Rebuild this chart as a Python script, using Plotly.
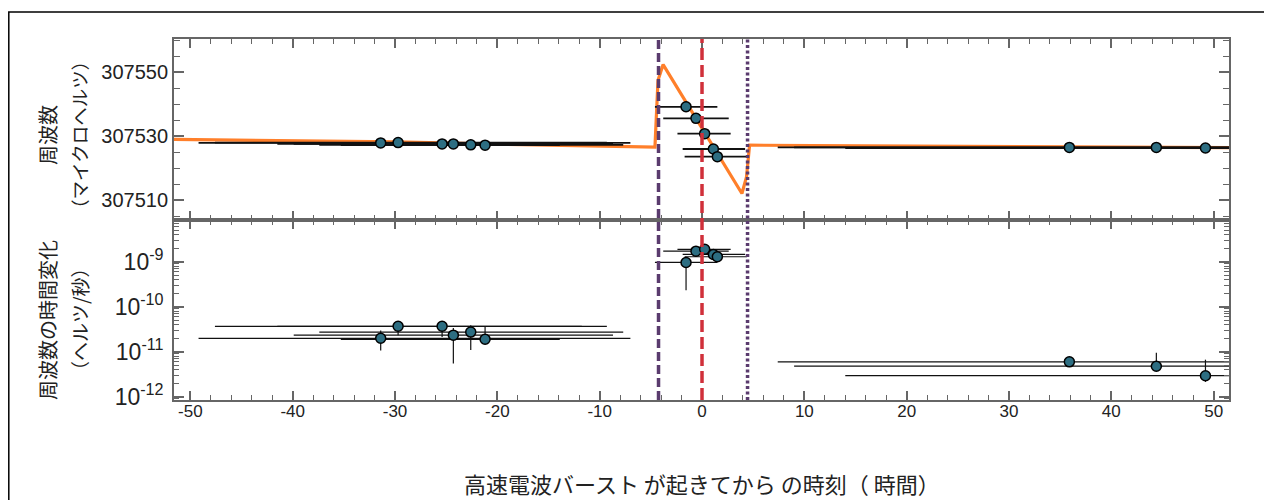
import plotly.graph_objects as go
from plotly.subplots import make_subplots

# ---------------- data ----------------
times = [-31.4, -29.7, -25.4, -24.3, -22.6, -21.2,
         -1.56, -0.59, 0.26, 1.11, 1.50,
         35.9, 44.4, 49.2]
t_err_minus = [17.8, 17.9, 16.1, 15.6, 14.8, 14.1,
               3.04, 3.2, 2.66, 3.0, 3.2,
               28.5, 35.4, 35.2]
t_err_plus = [24.4, 20.4, 13.65, 15.6, 14.9, 7.3,
              3.06, 3.2, 2.54, 3.1, 2.9,
              28.5, 35.4, 35.2]
freq = [307527.9, 307528.0, 307527.6, 307527.6, 307527.3, 307527.2,
        307539.2, 307535.6, 307530.8, 307526.0, 307523.6,
        307526.5, 307526.5, 307526.3]
fdot = [2.0e-11, 3.7e-11, 3.7e-11, 2.35e-11, 2.75e-11, 1.9e-11,
        9.7e-10, 1.73e-9, 1.9e-9, 1.46e-9, 1.3e-9,
        6.0e-12, 4.8e-12, 2.95e-12]
fdot_err_plus = [1.0e-11, 0.0, 0.0, 1.05e-11, 1.15e-11, 1.7e-11,
                 0.0, 0.0, 0.0, 0.0, 0.0,
                 1.8e-12, 4.7e-12, 3.75e-12]
fdot_err_minus = [0.93e-11, 1.36e-11, 1.55e-11, 1.8e-11, 1.65e-11, 0.0,
                  7.35e-10, 0.0, 0.0, 0.0, 0.0,
                  0.0, 0.0, 0.8e-12]

model_t = [-51.6, -40, -30, -20, -10, -4.6, -4.3, -3.8, 3.9, 4.35, 4.65, 20, 35, 51.6]
model_freq = [307529.0, 307528.6, 307528.2, 307527.5, 307527.0, 307526.6,
              307547.5, 307552.4, 307512.1, 307517.3, 307527.2,
              307526.9, 307526.7, 307526.4]

burst_window_start = -4.25
burst_time = 0.0
burst_window_end = 4.45

freq_ticks = [307510, 307530, 307550]
freq_ticktext = ["307510", "307530", "307550"]
fdot_ticks = [1e-12, 1e-11, 1e-10, 1e-9]
fdot_ticktext = ["10<sup>-12</sup>", "10<sup>-11</sup>", "10<sup>-10</sup>", "10<sup>-9</sup>"]
x_ticks = [-50, -40, -30, -20, -10, 0, 10, 20, 30, 40, 50]
x_ticktext = ["-50", "-40", "-30", "-20", "-10", "0", "10", "20", "30", "40", "50"]

# ---------------- figure ----------------
num_font = "Liberation Sans, Arial, sans-serif"
jp_font = "Noto Sans CJK JP, sans-serif"
axis_col = "#666666"
marker_col = "#2d6e82"

# figure is placed 8px from window corner by the page's body margin
W, H = 1264, 492
L, R, T, B = 166, 43, 31, 100
PW, PH = W - L - R, H - T - B


def px(xf):
    return (xf - L) / PW


def py(yf):
    return (H - B - yf) / PH


fig = make_subplots(rows=2, cols=1, shared_xaxes=True, vertical_spacing=0)

fig.add_trace(go.Scatter(x=model_t, y=model_freq, mode="lines",
                         line=dict(color="#ff7f2a", width=3.2),
                         hoverinfo="skip", showlegend=False), row=1, col=1)

fig.add_trace(go.Scatter(
    x=times, y=freq, mode="markers",
    marker=dict(size=10, color=marker_col, line=dict(color="black", width=1.5)),
    error_x=dict(type="data", symmetric=False, array=t_err_plus, arrayminus=t_err_minus,
                 color="#111111", thickness=1.8, width=0),
    showlegend=False), row=1, col=1)

fig.add_trace(go.Scatter(
    x=times, y=fdot, mode="markers",
    marker=dict(size=10, color=marker_col, line=dict(color="black", width=1.5)),
    error_x=dict(type="data", symmetric=False, array=t_err_plus, arrayminus=t_err_minus,
                 color="#111111", thickness=1.2, width=0),
    error_y=dict(type="data", symmetric=False, array=fdot_err_plus, arrayminus=fdot_err_minus,
                 color="#111111", thickness=1.2, width=0),
    showlegend=False), row=2, col=1)

# vertical reference lines across both panels
for xv, col, dash in [(burst_window_start, "#5a3b6e", "9px,4px"),
                      (burst_time, "#d0303a", "12px,5px"),
                      (burst_window_end, "#5a3b6e", "3px,2.5px")]:
    fig.add_shape(type="line", xref="x", yref="paper", x0=xv, x1=xv, y0=0, y1=1,
                  line=dict(color=col, width=3.5, dash=dash), layer="above")

# outer frame
fig.add_shape(type="rect", xref="paper", yref="paper",
              x0=px(0.8), x1=px(1257), y0=py(520), y1=py(4),
              line=dict(color="black", width=1.5), layer="above")

xcommon = dict(range=[-51.6, 51.5], tickvals=x_ticks, ticktext=x_ticktext,
               ticks="inside", ticklen=9, automargin=False,
               tickwidth=1.5, tickcolor=axis_col, showline=True, linecolor=axis_col,
               linewidth=1.8, mirror="ticks", showgrid=False, zeroline=False,
               minor=dict(ticks="inside", dtick=2, ticklen=5, tickcolor=axis_col, tickwidth=1.2))
fig.update_xaxes(**xcommon)
fig.update_xaxes(showticklabels=False, row=1, col=1)
fig.update_xaxes(showticklabels=True, tickfont=dict(family=num_font, size=17, color="#222222"),
                 ticklabelstandoff=-5, row=2, col=1)

fig.update_yaxes(range=[307503.8, 307560.4], tickvals=freq_ticks, ticktext=freq_ticktext,
                 tickfont=dict(family=num_font, size=20, color="#222222"),
                 ticks="inside", ticklen=10, tickwidth=1.5, tickcolor=axis_col,
                 showline=True, linecolor=axis_col, linewidth=1.8, mirror="ticks",
                 showgrid=False, zeroline=False, automargin=False,
                 minor=dict(ticks="inside", dtick=5, tick0=307510, ticklen=6,
                            tickcolor=axis_col, tickwidth=1.2),
                 domain=[0.4986, 1.0], row=1, col=1)

fig.update_yaxes(type="log", range=[-12.07, -8.07], tickvals=fdot_ticks, ticktext=fdot_ticktext,
                 tickfont=dict(family=num_font, size=23, color="#222222"),
                 ticks="inside", ticklen=10, tickwidth=1.5, tickcolor=axis_col,
                 showline=True, linecolor=axis_col, linewidth=1.8, mirror="ticks",
                 showgrid=False, zeroline=False, automargin=False, ticklabelstandoff=4,
                 minor=dict(ticks="inside", dtick="D1", ticklen=5,
                            tickcolor=axis_col, tickwidth=1.2),
                 domain=[0.0, 0.4986], row=2, col=1)

# axis titles as annotations
f1 = dict(family=jp_font, size=20, color="#222222")
f2 = dict(family=jp_font, size=18.5, color="#222222")
fig.add_annotation(text="周波数", xref="paper", yref="paper",
                   x=px(39), y=py(127), textangle=-90,
                   showarrow=False, font=f1, xanchor="center", yanchor="middle")
fig.add_annotation(text="（マイクロヘルツ）", xref="paper", yref="paper",
                   x=px(71), y=py(127), textangle=-90,
                   showarrow=False, font=f2, xanchor="center", yanchor="middle")
fig.add_annotation(text="周波数の時間変化", xref="paper", yref="paper",
                   x=px(39), y=py(312), textangle=-90,
                   showarrow=False, font=f1, xanchor="center", yanchor="middle")
fig.add_annotation(text="（ヘルツ/秒）", xref="paper", yref="paper",
                   x=px(71), y=py(312), textangle=-90,
                   showarrow=False, font=dict(family=jp_font, size=19, color="#222222"),
                   xanchor="center", yanchor="middle")
fig.add_annotation(text="高速電波バースト が起きてから の時刻（ 時間）", xref="paper", yref="paper",
                   x=0.5, y=py(475), showarrow=False,
                   font=dict(family=jp_font, size=22, color="#222222"),
                   xanchor="center", yanchor="middle")

fig.update_layout(width=W, height=H, plot_bgcolor="white", paper_bgcolor="white",
                  margin=dict(l=L, r=R, t=T, b=B), showlegend=False)

fig.write_html("out.html")
